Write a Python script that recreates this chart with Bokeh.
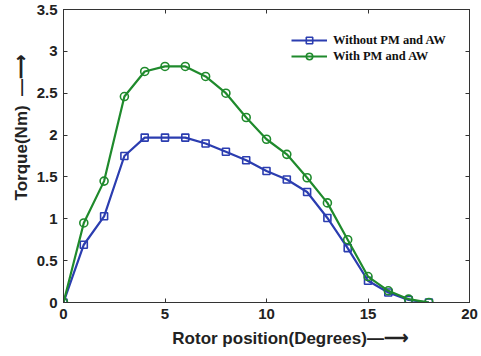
from bokeh.plotting import figure
from bokeh.models import LinearAxis, Legend, LegendItem, FixedTicker, Range1d
from bokeh.embed import file_html
from bokeh.resources import INLINE

rotor_position = [0, 1, 2, 3, 4, 5, 6, 7, 8, 9, 10, 11, 12, 13, 14, 15, 16, 17, 18]
torque_without = [0.0, 0.69, 1.03, 1.75, 1.97, 1.97, 1.97, 1.90, 1.80, 1.70,
                  1.57, 1.47, 1.32, 1.01, 0.65, 0.26, 0.12, 0.03, 0.0]
torque_with = [0.0, 0.95, 1.45, 2.46, 2.76, 2.82, 2.82, 2.70, 2.50, 2.21,
               1.95, 1.77, 1.49, 1.19, 0.75, 0.31, 0.14, 0.04, 0.0]
series_names = ["Without PM and AW", "With PM and AW"]
x_ticks = [0, 5, 10, 15, 20]
x_tick_labels = ["0", "5", "10", "15", "20"]
y_ticks = [0, 0.5, 1, 1.5, 2, 2.5, 3, 3.5]
y_tick_labels = ["0", "0.5", "1", "1.5", "2", "2.5", "3", "3.5"]
x_title = "Rotor position(Degrees)"
y_title = "Torque(Nm)"

ARROW = "\u2014\u27f6"
NB = "\u00a0"

BLUE = "#2b3db0"
GREEN = "#1f8a2c"
AX = "#333333"
SANS = "Liberation Sans"

p = figure(width=481, height=356, output_backend="svg", toolbar_location=None,
           x_range=Range1d(0, 20), y_range=Range1d(0, 3.5),
           min_border_left=63, min_border_right=12, min_border_top=9,
           min_border_bottom=54,
           x_axis_label=NB * 10 + x_title + ARROW,
           y_axis_label=NB * 12 + y_title + NB * 2 + ARROW)
p.xgrid.visible = False
p.ygrid.visible = False
p.outline_line_color = AX
p.outline_line_width = 1

for ax, ticks, labels in ((p.xaxis[0], x_ticks, x_tick_labels),
                          (p.yaxis[0], y_ticks, y_tick_labels)):
    ax.ticker = FixedTicker(ticks=ticks)
    ax.major_label_overrides = {t: l for t, l in zip(ticks, labels)}
    ax.major_label_text_font = SANS
    ax.major_label_text_font_style = "bold"
    ax.major_label_text_font_size = "15px"
    ax.major_label_text_color = "#222222"
    ax.axis_label_text_font = SANS
    ax.axis_label_text_font_style = "bold"
    ax.axis_label_text_font_size = "17px"
    ax.axis_label_text_color = "#222222"
    ax.axis_line_color = AX
    ax.major_tick_line_color = AX
    ax.major_tick_in = 4
    ax.major_tick_out = 0
    ax.minor_tick_line_color = None
p.xaxis[0].major_label_standoff = 6
p.xaxis[0].axis_label_standoff = 7
p.yaxis[0].major_label_standoff = 6
p.yaxis[0].axis_label_standoff = 3

for side, ticks in (("above", x_ticks), ("right", y_ticks)):
    ax = LinearAxis(ticker=FixedTicker(ticks=ticks),
                    major_label_overrides={t: "" for t in ticks},
                    major_label_text_color=None, major_label_standoff=0,
                    major_tick_in=4, major_tick_out=0, minor_tick_line_color=None,
                    axis_line_color=AX, major_tick_line_color=AX)
    p.add_layout(ax, side)
p.min_border_top = 9
p.min_border_right = 12

l1 = p.line(rotor_position, torque_without, line_color=BLUE, line_width=2.2)
m1 = p.scatter(rotor_position, torque_without, marker="square", size=7,
               line_color=BLUE, line_width=1.6, fill_color=None)
l2 = p.line(rotor_position, torque_with, line_color=GREEN, line_width=2.2)
m2 = p.scatter(rotor_position, torque_with, marker="circle", size=8,
               line_color=GREEN, line_width=1.6, fill_color=None)

legend = Legend(items=[LegendItem(label=series_names[0], renderers=[l1, m1]),
                       LegendItem(label=series_names[1], renderers=[l2, m2])],
                location=(228, 238), padding=0, margin=0, spacing=0,
                border_line_alpha=0, background_fill_alpha=0,
                glyph_width=36, glyph_height=16, label_standoff=6,
                label_text_font="Liberation Serif", label_text_font_style="bold",
                label_text_font_size="12.5px", label_text_color="#111111")
p.add_layout(legend)

open("out.html", "w").write(file_html(p, INLINE))
